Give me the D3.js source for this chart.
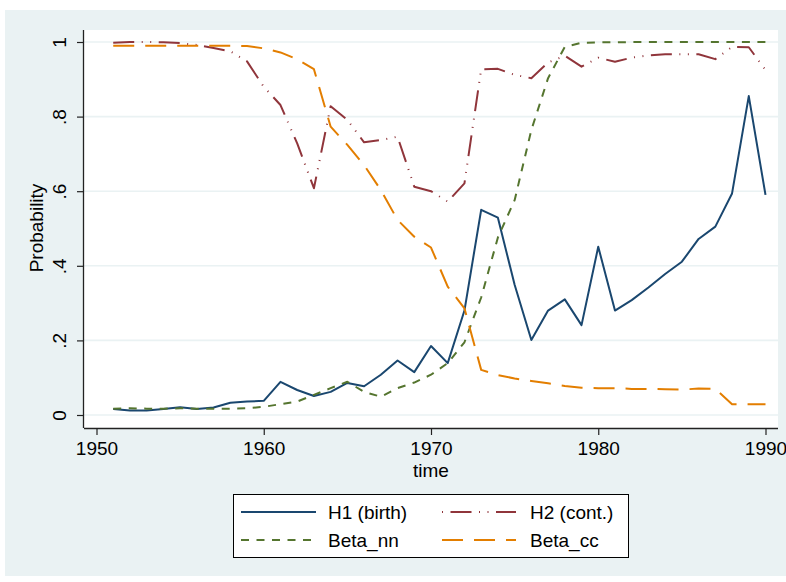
<!DOCTYPE html>
<html>
<head>
<meta charset="utf-8">
<script src="https://cdn.jsdelivr.net/npm/d3@7"></script>
<style>
  html, body { margin: 0; padding: 0; background: #ffffff; }
  svg { display: block; }
  text { font-family: "Liberation Sans", Arial, Helvetica, sans-serif; fill: #000; }
</style>
</head>
<body>
<svg id="chart" width="786" height="582"></svg>
<script>
// ---------------- data ----------------
const years = [1951,1952,1953,1954,1955,1956,1957,1958,1959,1960,
               1961,1962,1963,1964,1965,1966,1967,1968,1969,1970,
               1971,1972,1973,1974,1975,1976,1977,1978,1979,1980,
               1981,1982,1983,1984,1985,1986,1987,1988,1989,1990];

const h1Birth = [0.016,0.012,0.012,0.016,0.021,0.016,0.020,0.033,0.036,0.038,
                 0.089,0.067,0.051,0.062,0.086,0.077,0.108,0.146,0.115,0.185,
                 0.139,0.280,0.550,0.529,0.349,0.201,0.280,0.310,0.241,0.451,
                 0.280,0.308,0.342,0.378,0.411,0.472,0.505,0.594,0.855,0.590];

const h2Cont = [0.998,1.000,1.000,0.999,0.997,0.992,0.984,0.975,0.948,0.880,
                0.831,0.728,0.608,0.828,0.791,0.731,0.737,0.746,0.612,0.600,
                0.572,0.621,0.927,0.928,0.912,0.903,0.945,0.963,0.934,0.958,
                0.947,0.958,0.964,0.967,0.967,0.967,0.954,0.987,0.986,0.925];

const betaNN = [0.017,0.018,0.017,0.017,0.018,0.017,0.017,0.017,0.018,0.022,
                0.029,0.036,0.054,0.072,0.089,0.062,0.049,0.072,0.087,0.108,
                0.139,0.195,0.315,0.476,0.576,0.764,0.903,0.987,0.998,0.999,
                0.999,1.000,1.000,1.000,1.000,1.000,1.000,1.000,1.000,1.000];

const betaCC = [0.990,0.990,0.990,0.990,0.990,0.990,0.990,0.990,0.989,0.983,
                0.972,0.954,0.927,0.773,0.724,0.670,0.603,0.523,0.478,0.449,
                0.344,0.286,0.121,0.107,0.098,0.091,0.085,0.078,0.073,0.072,
                0.072,0.070,0.070,0.069,0.068,0.071,0.070,0.029,0.029,0.029];

const xTicks = [1950, 1960, 1970, 1980, 1990];
const xTickLabels = ["1950", "1960", "1970", "1980", "1990"];
const yTicks = [0, 0.2, 0.4, 0.6, 0.8, 1];
const yTickLabels = ["0", ".2", ".4", ".6", ".8", "1"];

const seriesNames = ["H1 (birth)", "H2 (cont.)", "Beta_nn", "Beta_cc"];
const seriesValues = [h1Birth, h2Cont, betaNN, betaCC];
const seriesColors = ["#1a476f", "#90353b", "#55752f", "#e37e00"];
const seriesDash = [null, "21,7.5,1,7.5,1,7.5", "8,7.5", "21,11"];

// ---------------- layout ----------------
const svg = d3.select("#chart");
const FONT = 19;
const plot = { left: 84, right: 778, top: 30, bottom: 428 };

const x = d3.scaleLinear().domain([1950, 1990]).range([96.5, 765.5]);
const y = d3.scaleLinear().domain([0, 1]).range([415, 42]);

// outer background
svg.append("rect").attr("x", 5).attr("y", 10).attr("width", 781).attr("height", 566)
  .attr("fill", "#eaf2f3");
// plot region
svg.append("rect").attr("x", plot.left).attr("y", plot.top)
  .attr("width", plot.right - plot.left).attr("height", plot.bottom - plot.top)
  .attr("fill", "#ffffff");

// gridlines
svg.append("g").selectAll("line").data(yTicks).join("line")
  .attr("x1", plot.left).attr("x2", plot.right)
  .attr("y1", d => y(d)).attr("y2", d => y(d))
  .attr("stroke", "#eaf2f3").attr("stroke-width", 1.6);

// series lines
const line = d3.line().x((d, i) => x(years[i])).y(d => y(d));
const gLines = svg.append("g");
seriesValues.forEach((vals, k) => {
  gLines.append("path")
    .datum(vals)
    .attr("d", line)
    .attr("fill", "none")
    .attr("stroke", seriesColors[k])
    .attr("stroke-width", 2)
    .attr("stroke-linejoin", "round")
    .attr("stroke-dasharray", seriesDash[k]);
});

// axes
const xAxis = d3.axisBottom(x).tickValues(xTicks)
  .tickFormat((d, i) => xTickLabels[i]).tickSize(7).tickSizeOuter(0);
const gx = svg.append("g").attr("transform", `translate(0,${plot.bottom})`).call(xAxis);
gx.select(".domain").attr("d", `M${plot.left},0.5H${plot.right}`).attr("stroke", "#222").attr("stroke-width", 1.3);
gx.selectAll(".tick line").attr("stroke", "#222").attr("stroke-width", 1.2);
gx.selectAll(".tick text").attr("font-size", FONT).attr("font-family", null)
  .attr("y", 27).attr("dy", 0).attr("fill", "#000");

const yAxis = d3.axisLeft(y).tickValues(yTicks)
  .tickFormat((d, i) => yTickLabels[i]).tickSize(7).tickSizeOuter(0);
const gy = svg.append("g").attr("transform", `translate(${plot.left},0)`).call(yAxis);
gy.select(".domain").attr("d", `M-0.5,${plot.top}V${plot.bottom}`).attr("stroke", "#222").attr("stroke-width", 1.3);
gy.selectAll(".tick line").attr("stroke", "#222").attr("stroke-width", 1.2);
gy.selectAll(".tick text")
  .attr("font-size", FONT).attr("font-family", null).attr("fill", "#000")
  .attr("x", null).attr("dy", null)
  .attr("text-anchor", "middle")
  .attr("transform", "translate(-18,0) rotate(-90)");

// axis titles
svg.append("text").attr("x", 431).attr("y", 477).attr("text-anchor", "middle")
  .attr("font-size", FONT).text("time");
svg.append("text").attr("transform", "translate(43,228) rotate(-90)")
  .attr("text-anchor", "middle").attr("font-size", FONT).text("Probability");

// legend
const legend = svg.append("g");
legend.append("rect").attr("x", 233.5).attr("y", 494.5).attr("width", 395).attr("height", 63)
  .attr("fill", "#ffffff").attr("stroke", "#000").attr("stroke-width", 1);
const legPos = [
  { x1: 241, x2: 316, tx: 328, y: 512 },
  { x1: 442, x2: 516, tx: 530, y: 512 },
  { x1: 241, x2: 316, tx: 328, y: 540 },
  { x1: 442, x2: 516, tx: 530, y: 540 }
];
const legOffset = [0, 37, 0, 0];
seriesNames.forEach((name, k) => {
  const p = legPos[k];
  legend.append("line").attr("x1", p.x1).attr("x2", p.x2).attr("y1", p.y).attr("y2", p.y)
    .attr("stroke", seriesColors[k]).attr("stroke-width", 2)
    .attr("stroke-dasharray", seriesDash[k]).attr("stroke-dashoffset", legOffset[k]);
  legend.append("text").attr("x", p.tx).attr("y", p.y + 7)
    .attr("font-size", FONT).text(name);
});
</script>
</body>
</html>
